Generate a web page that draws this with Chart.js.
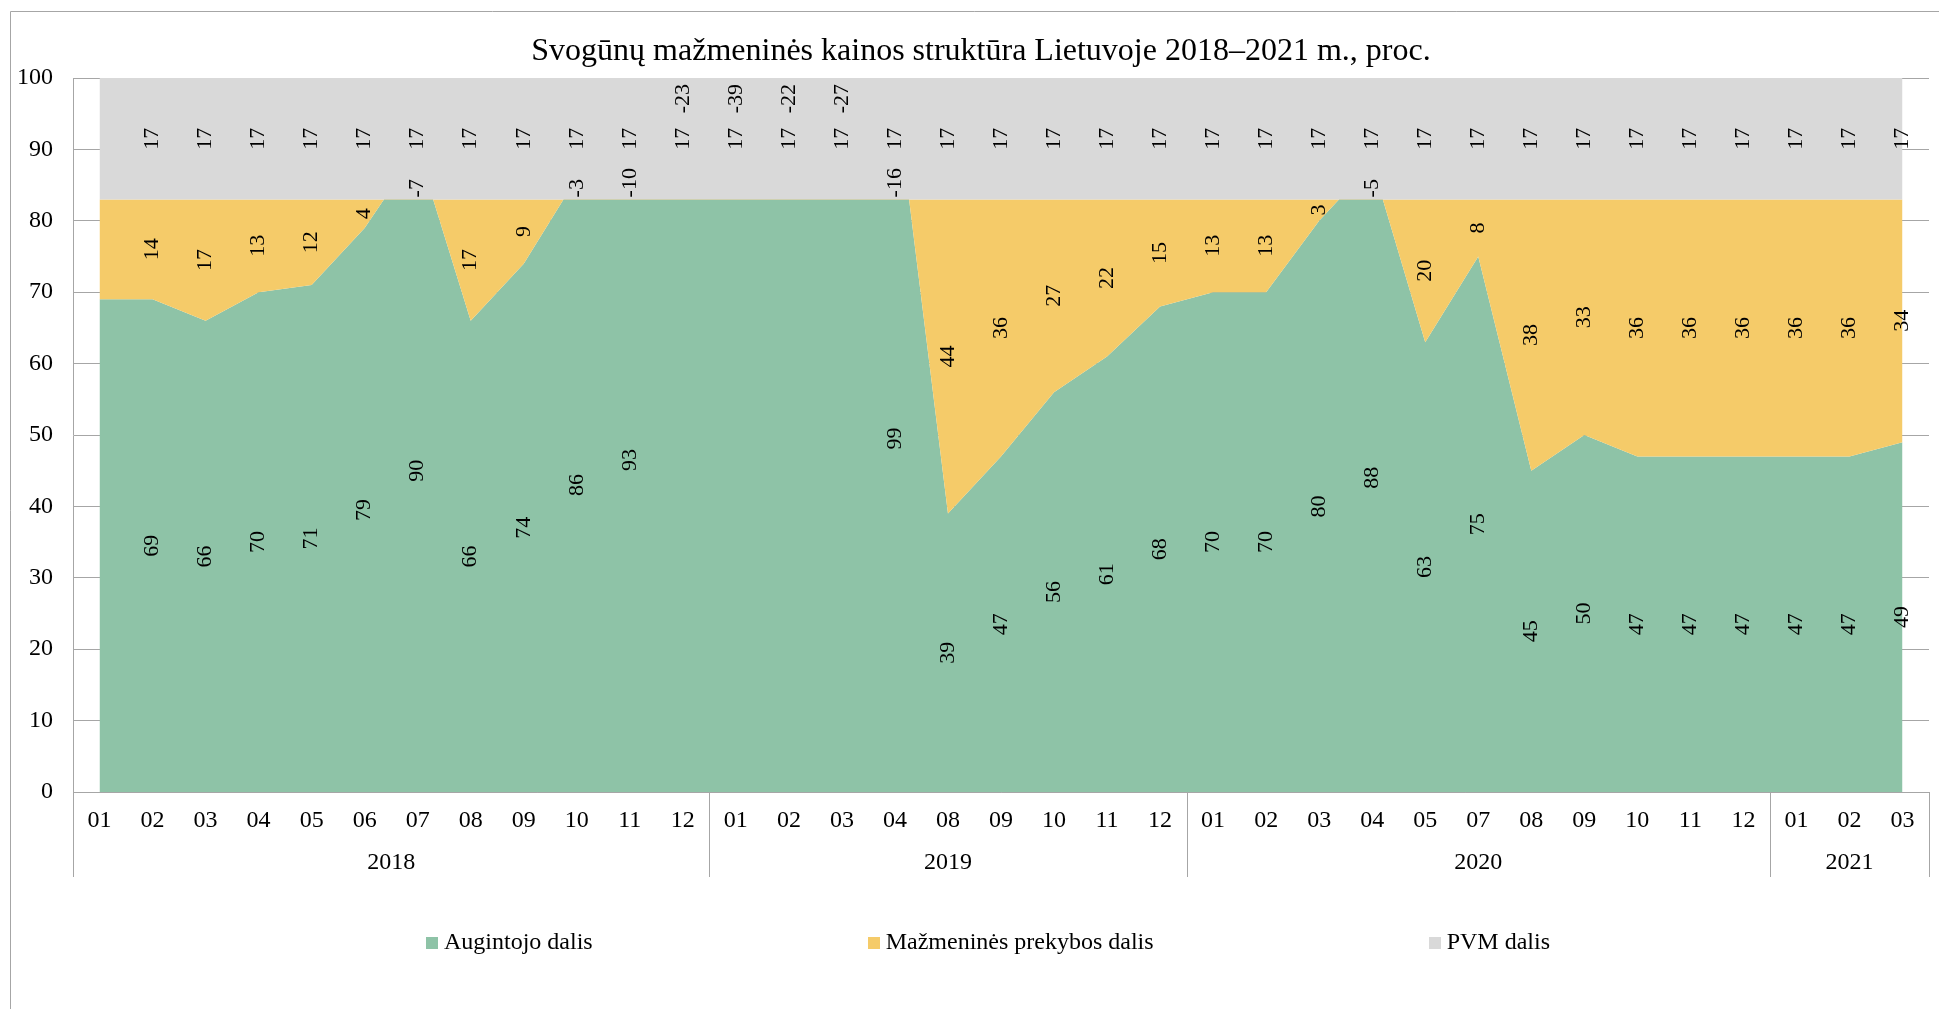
<!DOCTYPE html>
<html>
<head>
<meta charset="utf-8">
<script src="https://cdn.jsdelivr.net/npm/chart.js@4.4.0/dist/chart.umd.min.js"></script>
<style>
html, body { margin: 0; padding: 0; background: #fff; }
</style>
</head>
<body>
<canvas id="chart" width="1939" height="1009"></canvas>
<script>
// month labels and the year groups below them
const months = ['01','02','03','04','05','06','07','08','09','10','11','12',
                '01','02','03','04','08','09','10','11','12',
                '01','02','03','04','05','07','08','09','10','11','12',
                '01','02','03'];
const yearLabels = ['2018', '2019', '2020', '2021'];
const yearSpans = [12, 9, 11, 3];

// shares, %
const augintojo = [69,69,66,70,71,79,90,66,74,86,93,106,
                   122,105,110,99,39,47,56,61,68,
                   70,70,80,88,63,75,45,50,47,47,47,
                   47,47,49];
const prekybos = [14,14,17,13,12,4,-7,17,9,-3,-10,-23,
                  -39,-22,-27,-16,44,36,27,22,15,
                  13,13,3,-5,20,8,38,33,36,36,36,
                  36,36,34];
const pvm = [17,17,17,17,17,17,17,17,17,17,17,17,
             17,17,17,17,17,17,17,17,17,
             17,17,17,17,17,17,17,17,17,17,17,
             17,17,17];

const seriesNames = ['Augintojo dalis', 'Mažmeninės prekybos dalis', 'PVM dalis'];
const yTicks = [0, 10, 20, 30, 40, 50, 60, 70, 80, 90, 100];

const FONT = "'Liberation Serif', 'Times New Roman', serif";
const GRID = '#a6a6a6';

// running totals: each band is filled between its own top and the one below
const greenTop = augintojo.slice();
const yellowTop = augintojo.map((v, i) => v + prekybos[i]);
const grayTop = yellowTop.map((v, i) => v + pvm[i]);

Chart.defaults.font.family = FONT;
Chart.defaults.color = '#000';

const frame = {
    id: 'frame',
    beforeDraw(chart) {
        const ctx = chart.ctx;
        ctx.save();
        ctx.fillStyle = '#fff';
        ctx.fillRect(0, 0, chart.width, chart.height);
        ctx.strokeStyle = GRID;
        ctx.lineWidth = 1;
        ctx.beginPath();
        ctx.moveTo(10.5, chart.height);
        ctx.lineTo(10.5, 11.5);
        ctx.lineTo(chart.width, 11.5);
        ctx.stroke();
        ctx.restore();
    },
    afterDraw(chart) {
        const ctx = chart.ctx;
        ctx.save();
        ctx.font = '32px ' + FONT;
        ctx.fillStyle = '#000';
        ctx.textAlign = 'center';
        ctx.textBaseline = 'middle';
        ctx.fillText('Svogūnų mažmeninės kainos struktūra Lietuvoje 2018–2021 m., proc.', 981, 52);
        ctx.restore();
    }
};

// year row and group separators under the month labels
const yearAxis = {
    id: 'yearAxis',
    afterDraw(chart) {
        const ctx = chart.ctx;
        const area = chart.chartArea;
        const xs = chart.scales.x;
        const bottom = area.bottom + 85;
        const lines = [area.left, area.right];
        ctx.save();
        ctx.font = '24px ' + FONT;
        ctx.fillStyle = '#000';
        ctx.textAlign = 'center';
        ctx.textBaseline = 'middle';
        let start = 0;
        yearSpans.forEach((n, k) => {
            const end = start + n - 1;
            const cx = (xs.getPixelForValue(start) + xs.getPixelForValue(end)) / 2;
            ctx.fillText(yearLabels[k], cx, area.bottom + 71);
            if (k < yearSpans.length - 1) {
                lines.push((xs.getPixelForValue(end) + xs.getPixelForValue(end + 1)) / 2);
            }
            start += n;
        });
        ctx.strokeStyle = GRID;
        ctx.lineWidth = 1;
        ctx.beginPath();
        lines.forEach(px => {
            const p = Math.round(px) + 0.5;
            ctx.moveTo(p, area.bottom);
            ctx.lineTo(p, bottom);
        });
        ctx.stroke();
        ctx.restore();
    }
};

// rotated value labels inside each band
const valueLabels = {
    id: 'valueLabels',
    afterDatasetsDraw(chart) {
        const ctx = chart.ctx;
        const area = chart.chartArea;
        const xs = chart.scales.x, ys = chart.scales.y;
        ctx.save();
        ctx.font = '22px ' + FONT;
        ctx.fillStyle = '#000';
        ctx.textAlign = 'center';
        ctx.textBaseline = 'middle';
        const put = (text, px, py) => {
            ctx.save();
            ctx.translate(px, py);
            ctx.rotate(-Math.PI / 2);
            ctx.fillText(text, 0, 0);
            ctx.restore();
        };
        for (let i = 1; i < months.length; i++) {
            const px = xs.getPixelForValue(i);
            const g = augintojo[i], p = prekybos[i], v = pvm[i];
            if (g <= 100) put(String(g), px, ys.getPixelForValue(g / 2));
            const w = ctx.measureText(String(p)).width;
            let py;
            if (p >= 0) py = ys.getPixelForValue(g + p / 2);
            else if (g > 100) py = area.top + 6 + w / 2;
            else py = ys.getPixelForValue(g + p) - 2 - w / 2;
            put(String(p), px, py);
            put(String(v), px, ys.getPixelForValue(g + p + v / 2));
        }
        ctx.restore();
    }
};

const legendRow = {
    id: 'legendRow',
    afterDraw(chart) {
        const ctx = chart.ctx;
        ctx.save();
        ctx.font = '24px ' + FONT;
        ctx.textBaseline = 'middle';
        const box = 12, gapBox = 6, gapItem = 275;
        const items = chart.data.datasets.map(d => ({
            label: d.label,
            color: d.backgroundColor,
            w: box + gapBox + ctx.measureText(d.label).width
        }));
        const total = items.reduce((s, it) => s + it.w, 0) + gapItem * (items.length - 1);
        let x = 988 - total / 2;
        const y = 943;
        items.forEach(it => {
            ctx.fillStyle = it.color;
            ctx.fillRect(Math.round(x), y - box / 2, box, box);
            ctx.fillStyle = '#000';
            ctx.fillText(it.label, x + box + gapBox, y);
            x += it.w + gapItem;
        });
        ctx.restore();
    }
};

var ctx = document.getElementById('chart').getContext('2d');
var chart = new Chart(ctx, {
    type: 'line',
    data: {
        labels: months,
        datasets: [{
            label: seriesNames[0],
            data: greenTop,
            backgroundColor: '#8ec3a7',
            fill: 'origin',
            order: 3
        }, {
            label: seriesNames[1],
            data: yellowTop,
            backgroundColor: '#f5cb69',
            fill: '-1',
            order: 2
        }, {
            label: seriesNames[2],
            data: grayTop,
            backgroundColor: '#d9d9d9',
            fill: '-1',
            order: 1
        }]
    },
    options: {
        responsive: false,
        animation: false,
        events: [],
        layout: { padding: { left: 12, right: 10, top: 78, bottom: 132 } },
        elements: {
            line: { borderWidth: 0, borderColor: 'rgba(0,0,0,0)', tension: 0 },
            point: { radius: 0, hoverRadius: 0 }
        },
        plugins: {
            legend: { display: false },
            title: { display: false },
            tooltip: { enabled: false }
        },
        scales: {
            x: {
                offset: true,
                grid: { display: false, drawTicks: false },
                border: { display: true, color: GRID, width: 1 },
                ticks: { font: { size: 24 }, padding: 14, autoSkip: false, maxRotation: 0, minRotation: 0 },
                afterFit: s => { s.height = 85; }
            },
            y: {
                min: 0,
                max: 100,
                afterBuildTicks: s => { s.ticks = yTicks.map(v => ({ value: v })); },
                grid: { color: GRID, lineWidth: 1, drawTicks: false },
                border: { display: true, color: GRID, width: 1 },
                ticks: { font: { size: 24 }, padding: 20 },
                afterFit: s => { s.width = 61; }
            }
        }
    },
    plugins: [frame, yearAxis, valueLabels, legendRow]
});
</script>
</body>
</html>
